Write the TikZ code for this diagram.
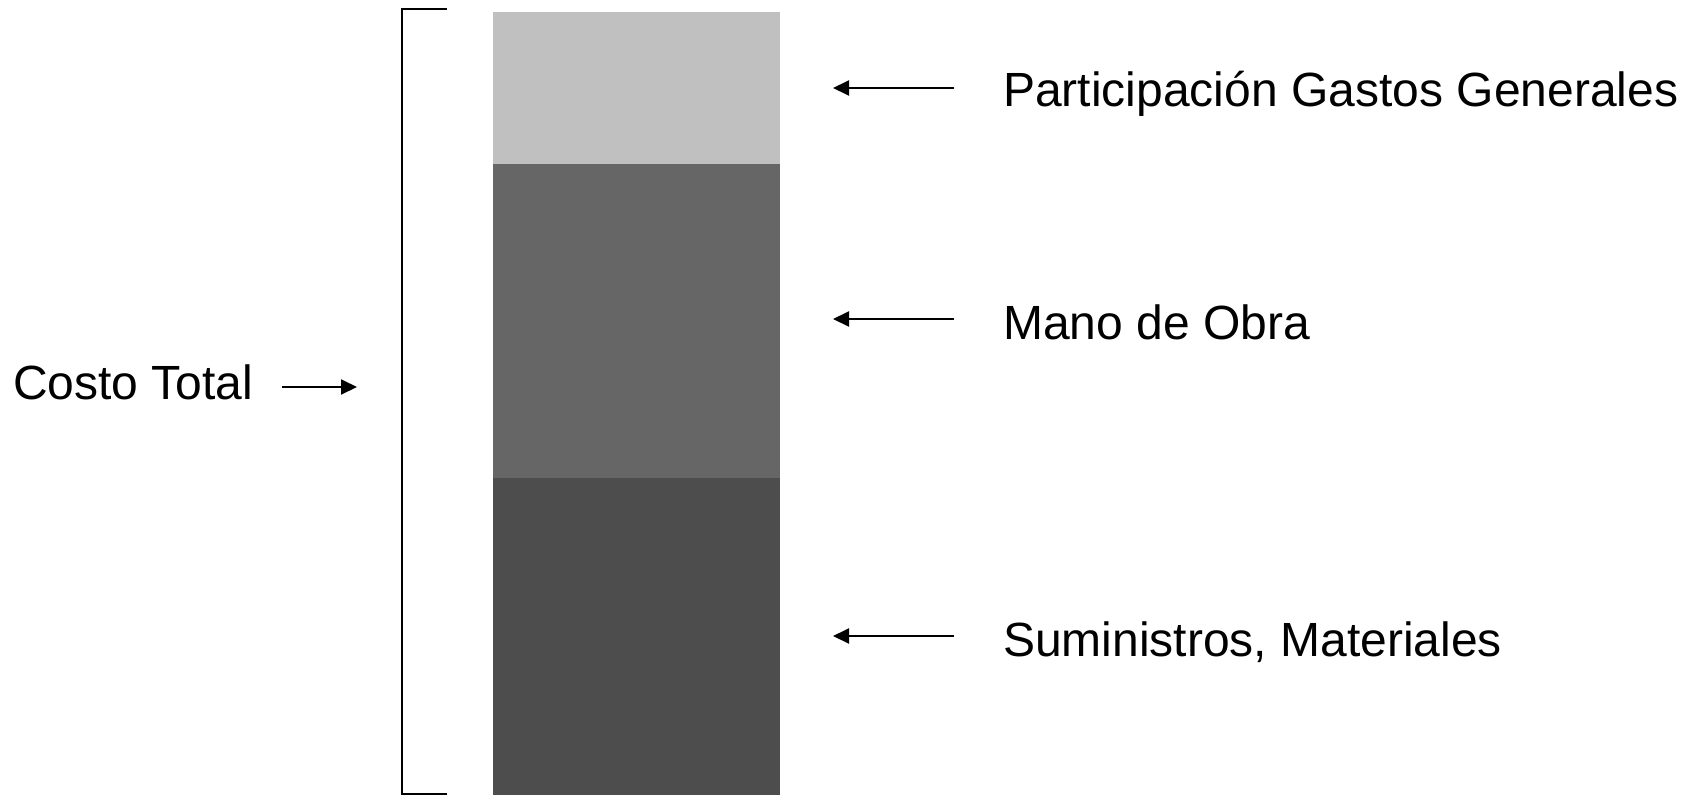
\documentclass[tikz,border=0pt]{standalone}
\usepackage{fontspec}
\setmainfont{Liberation Sans}
\usetikzlibrary{arrows.meta}
\definecolor{segLight}{RGB}{192,192,192}
\definecolor{segMid}{RGB}{102,102,102}
\definecolor{segDark}{RGB}{77,77,77}
\begin{document}
\begin{tikzpicture}[x=1pt,y=-1pt,
  lbl/.style={font=\fontsize{48}{57}\selectfont, inner sep=0pt, anchor=base west},
  arr/.style={line width=2pt, -{Triangle[length=16pt,width=15pt]}},
  seg/.style={draw=none, inner sep=0pt, outer sep=0pt, minimum width=287pt, anchor=north west},
  brk/.style={line width=2pt}]
\useasboundingbox (0,0) rectangle (1694,795);
% stacked bar
\node[seg, fill=segLight, minimum height=152pt] (gg) at (493,12) {};
\node[seg, fill=segMid, minimum height=313.5pt] (mo) at (493,164) {};
\node[seg, fill=segDark, minimum height=317.5pt] (sm) at (493,477.5) {};
% bracket
\coordinate (bt) at (447,9);
\coordinate (btc) at (402,9);
\coordinate (bbc) at (402,794);
\coordinate (bb) at (447,794);
\draw[brk] (bt) -- (btc) -- (bbc) -- (bb);
% labels
\node[lbl] (ct) at (13,399.5) {Costo Total};
\node[lbl] (lgg) at (1003,106.5) {Participación Gastos Generales};
\node[lbl] (lmo) at (1003,339.5) {Mano de Obra};
\node[lbl] (lsm) at (1003,656) {Suministros, Materiales};
% arrows
\coordinate (cta) at (282,387);
\coordinate (ctb) at (357,387);
\draw[arr] (cta) -- (ctb);
\coordinate (gga) at (954,88);
\coordinate (ggb) at (833,88);
\draw[arr] (gga) -- (ggb);
\coordinate (moa) at (954,319);
\coordinate (mob) at (833,319);
\draw[arr] (moa) -- (mob);
\coordinate (sma) at (954,636);
\coordinate (smb) at (833,636);
\draw[arr] (sma) -- (smb);
\end{tikzpicture}
\end{document}
